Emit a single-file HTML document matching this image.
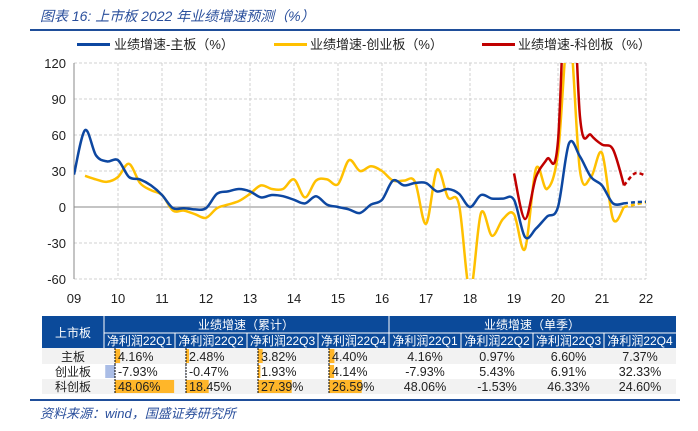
<!DOCTYPE html>
<html><head><meta charset="utf-8"><style>
body{margin:0;background:#fff;width:698px;height:426px;overflow:hidden;font-family:"Liberation Sans","Noto Sans CJK SC",sans-serif;}
svg text{font-family:"Liberation Sans","Noto Sans CJK SC",sans-serif;}
</style></head><body>
<svg id="chart" width="698" height="426" xmlns="http://www.w3.org/2000/svg">
<text x="40" y="21" font-size="14" font-style="italic" fill="#2a4f9c">图表 16:  上市板 2022 年业绩增速预测（%）</text>
<rect x="30" y="29" width="650" height="2" fill="#1f4e9a"/>
<g>
<g><rect x="77" y="43" width="33" height="3" fill="#0d47a1"/><text x="114" y="49" font-size="13" fill="#222">业绩增速-主板（%）</text></g>
<g><rect x="274" y="43" width="33" height="3" fill="#ffc000"/><text x="310" y="49" font-size="13" fill="#222">业绩增速-创业板（%）</text></g>
<g><rect x="482" y="43" width="33" height="3" fill="#c00000"/><text x="518" y="49" font-size="13" fill="#222">业绩增速-科创板（%）</text></g>
</g>
<defs><clipPath id="pc"><rect x="74" y="63" width="572" height="216"/></clipPath></defs>
<g id="grid"></g><g id="axes"></g>
<g id="series" clip-path="url(#pc)"></g>
<g id="table"></g>
<rect x="30" y="399" width="650" height="2" fill="#1f4e9a"/>
<text x="40" y="418" font-size="13" font-style="italic" fill="#2a4f9c">资料来源：wind，国盛证券研究所</text>
</svg>
<script>
const yearLabels=["09","10","11","12","13","14","15","16","17","18","19","20","21","22"];
const yTicks=[120,90,60,30,0,-30,-60];
// quarterly series starting 2009Q1
const mainBoard=[27,64,43,38,39,25,23,18,10,-1,-1,-2,-1,11,13,15,13,8,10,9,6,3,9,2,0,-2,-5,2,6,22,18,20,20,13,15,11,0,10,7,7,6,-25,-18,-8,0,53,42,25,18,3,3];
const mainForecast=[3,4,4.4];
const chinext=[null,26,23,21,25,36,20,14,10,-3,-3,-6,-9,-1,2,5,11,18,15,15,23,8,22,23,19,39,30,34,30,22,22,21,-14,31,8,2,-70,-5,-24,-10,-6,-35,32,15,45,150,30,25,45,-10,0];
const chinextForecast=[0,2,4];
const star=[28,-10,25,40,55,250,75,60,52,48,18];
const starStart=40;
const starForecast=[18,28,26];

const X0=74,X1=646,Y0=63,Y1=279,YMAX=120,YMIN=-60;
const xq=q=>X0+q*(X1-X0)/52;
const yv=v=>Y0+(YMAX-v)*(Y1-Y0)/(YMAX-YMIN);
const NS="http://www.w3.org/2000/svg";
function mk(tag,attrs,parent,txt){const e=document.createElementNS(NS,tag);for(const k in attrs)e.setAttribute(k,attrs[k]);if(txt!==undefined)e.textContent=txt;parent.appendChild(e);return e;}
const grid=document.getElementById('grid'),axes=document.getElementById('axes'),ser=document.getElementById('series');
yTicks.forEach(t=>{
  const g=mk('line',{x1:X0,x2:X1,y1:yv(t),y2:yv(t),stroke:t===0?'#888':'#d0d0d0','stroke-dasharray':t===0?'':'3,2','stroke-width':1},grid);
  
  
  const l=mk('text',{x:X0-8,y:yv(t)+5,'font-size':13,'text-anchor':'end',fill:'#222'},axes,String(t));
  
  
});
yearLabels.forEach((y,i)=>{
  const x=xq(i*4);
  const g=mk('line',{x1:x,x2:x,y1:Y0,y2:Y1,stroke:'#d0d0d0','stroke-dasharray':'3,2'},grid);
  
  
  const l=mk('text',{x:x,y:Y1+24,'font-size':13,'text-anchor':'middle',fill:'#222'},axes,y);
  
  
});
const ax=mk('line',{x1:X0,x2:X0,y1:Y0,y2:Y1,stroke:'#888'},axes);


function pathFrom(pts){
  let d='M'+pts[0][0]+','+pts[0][1];
  for(let i=0;i<pts.length-1;i++){
    const p0=pts[i-1]||pts[i],p1=pts[i],p2=pts[i+1],p3=pts[i+2]||p2;
    const c1=[p1[0]+(p2[0]-p0[0])/6,p1[1]+(p2[1]-p0[1])/6],c2=[p2[0]-(p3[0]-p1[0])/6,p2[1]-(p3[1]-p1[1])/6];
    d+=` C${c1[0]},${c1[1]} ${c2[0]},${c2[1]} ${p2[0]},${p2[1]}`;
  }
  return d;
}
function draw(vals,start,color,name,dash){
  const pts=[];vals.forEach((v,i)=>{if(v!==null)pts.push([xq(start+i),yv(v)]);});
  const p=mk('path',{d:pathFrom(pts),fill:'none',stroke:color,'stroke-width':2.5,'stroke-dasharray':dash||''},ser);
  
  
}
draw(chinext,0,'#ffc000','line-chinext');
draw(chinextForecast,50,'#ffc000','line-chinext-forecast','4,3');
draw(mainBoard,0,'#0d47a1','line-main-board');
draw(mainForecast,50,'#0d47a1','line-main-forecast','4,3');
draw(star,starStart,'#c00000','line-star');
draw(starForecast,50,'#c00000','line-star-forecast','4,3');

// table
const rowNames=["主板","创业板","科创板"];
const colHeads=["净利润22Q1","净利润22Q2","净利润22Q3","净利润22Q4"];
const cumVals=[[4.16,2.48,3.82,4.40],[-7.93,-0.47,1.93,4.14],[48.06,18.45,27.39,26.59]];
const qVals=[[4.16,0.97,6.60,7.37],[-7.93,5.43,6.91,32.33],[48.06,-1.53,46.33,24.60]];
const T=document.getElementById('table');
const cols=[42,104,175,247,318,389,461,533,604,676];
const rows=[316,333,348,364,379,394];
const hb='#0b4a9a';
let r=mk('rect',{x:42,y:316,width:634,height:32,fill:hb},T);


mk('line',{x1:104,x2:104,y1:316,y2:348,stroke:'#fff'},T);
mk('line',{x1:389,x2:389,y1:316,y2:348,stroke:'#fff'},T);
mk('line',{x1:104,x2:676,y1:333,y2:333,stroke:'#fff'},T);
let t=mk('text',{x:73,y:337,'font-size':12,fill:'#fff','text-anchor':'middle'},T,'上市板');


t=mk('text',{x:246,y:329,'font-size':12,fill:'#fff','text-anchor':'middle'},T,'业绩增速（累计）');


t=mk('text',{x:532,y:329,'font-size':12,fill:'#fff','text-anchor':'middle'},T,'业绩增速（单季）');


for(let c=0;c<8;c++){
  if(c>0)mk('line',{x1:cols[c+1],x2:cols[c+1],y1:333,y2:348,stroke:'#fff'},T);
  t=mk('text',{x:(cols[c+1]+cols[c+2])/2,y:345,'font-size':12,fill:'#fff','text-anchor':'middle'},T,colHeads[c%4]);
  
  
}
rowNames.forEach((n,i)=>{
  const y0=rows[i+2],y1=rows[i+3];
  if(i!==1){const bg=mk('rect',{x:42,y:y0,width:634,height:y1-y0,fill:'#f2f2f2'},T);}
  t=mk('text',{x:73,y:y1-3,'font-size':12,fill:'#222','text-anchor':'middle'},T,n);
  
  
  for(let c=0;c<4;c++){
    const z=cols[c+1]+11,v=cumVals[i][c],w=v*1.23;
    const b=mk('rect',{x:w<0?z+w:z,y:y0+1,width:Math.abs(w),height:y1-y0-2,fill:w<0?'#aabde6':'#ffb629'},T);
    
    
    mk('line',{x1:z,x2:z,y1:y0,y2:y1,stroke:'#000','stroke-dasharray':'2,1'},T);
    t=mk('text',{x:z+3,y:y1-3,'font-size':12.5,fill:'#222'},T,v.toFixed(2)+'%');
    
    
    t=mk('text',{x:(cols[c+5]+cols[c+6])/2,y:y1-3,'font-size':12.5,fill:'#222','text-anchor':'middle'},T,qVals[i][c].toFixed(2)+'%');
    
    
  }
});
</script>
</body></html>
